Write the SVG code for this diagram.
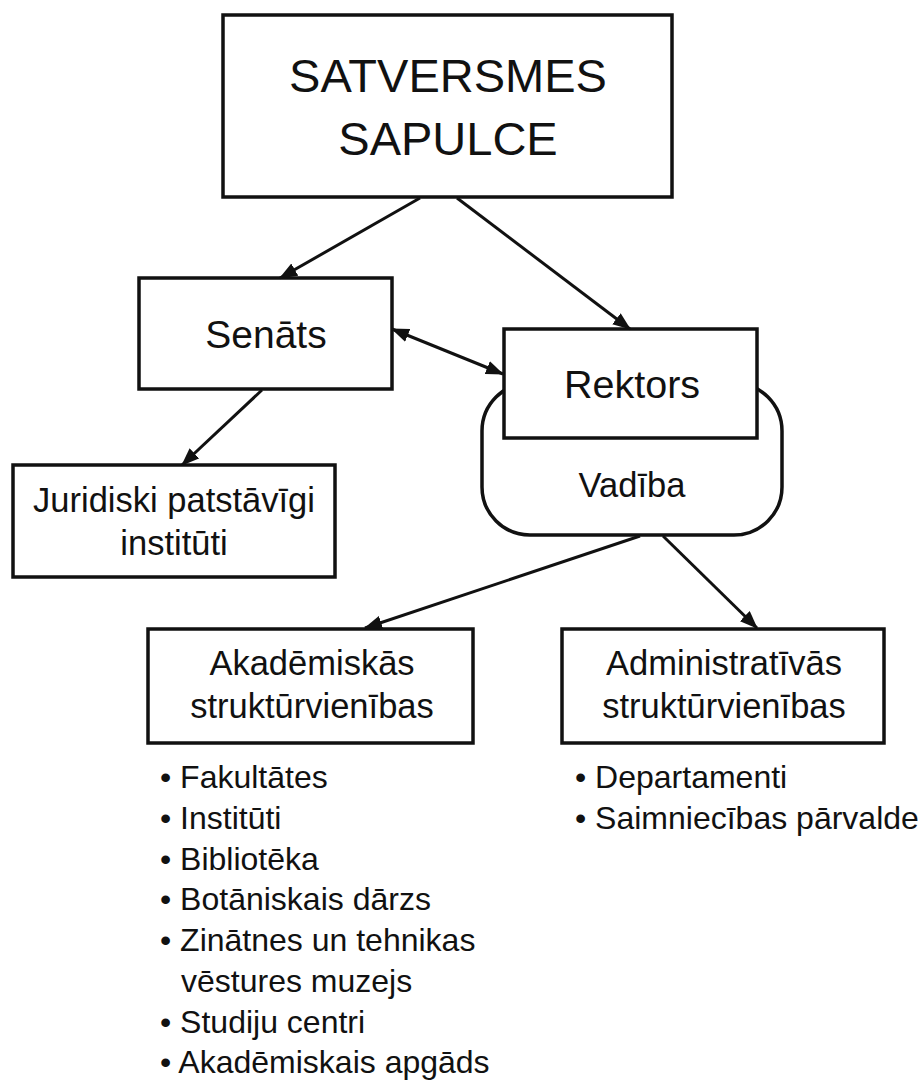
<svg xmlns="http://www.w3.org/2000/svg" width="922" height="1082" viewBox="0 0 922 1082">
<style>
.box{fill:#fff;stroke:#111;stroke-width:3.5}
.t{font-family:"Liberation Sans",Arial,sans-serif;fill:#111;text-anchor:middle}
.l{font-family:"Liberation Sans",Arial,sans-serif;fill:#111;font-size:32px}
.c{stroke:#111;stroke-width:3;fill:none}
</style>
<defs>
<marker id="ah" markerUnits="userSpaceOnUse" markerWidth="18" markerHeight="14" refX="17" refY="7" orient="auto">
<path d="M0,0 L18,7 L0,14 Z" fill="#111"/>
</marker>
<marker id="as" markerUnits="userSpaceOnUse" markerWidth="18" markerHeight="14" refX="1" refY="7" orient="auto">
<path d="M18,0 L0,7 L18,14 Z" fill="#111"/>
</marker>
</defs>
<rect width="922" height="1082" fill="#fff"/>
<g id="satversmes">
<rect class="box" x="223" y="15" width="449" height="182"/>
<text class="t" x="448" y="92" font-size="47">SATVERSMES</text>
<text class="t" x="448" y="155" font-size="47">SAPULCE</text>
</g>
<g id="senats">
<rect class="box" x="139" y="278" width="253" height="111"/>
<text class="t" x="266" y="348" font-size="39">Senāts</text>
</g>
<g id="vadiba">
<rect class="box" x="482" y="383" width="300" height="152" rx="48" ry="48"/>
<text class="t" x="632" y="497" font-size="34.5">Vadība</text>
</g>
<g id="rektors">
<rect class="box" x="504" y="329" width="253" height="109"/>
<text class="t" x="632" y="398" font-size="39.5">Rektors</text>
</g>
<g id="juridiski">
<rect class="box" x="13" y="465" width="322" height="112"/>
<text class="t" x="174" y="512" font-size="34.5">Juridiski patstāvīgi</text>
<text class="t" x="174" y="555" font-size="34.5">institūti</text>
</g>
<g id="akademiskas">
<rect class="box" x="148" y="629" width="325" height="114"/>
<text class="t" x="312" y="675" font-size="34.5">Akadēmiskās</text>
<text class="t" x="312" y="718" font-size="34.5">struktūrvienības</text>
</g>
<g id="administrativas">
<rect class="box" x="562" y="629" width="322" height="114"/>
<text class="t" x="724" y="675" font-size="34.5">Administratīvās</text>
<text class="t" x="724" y="718" font-size="34.5">struktūrvienības</text>
</g>
<g id="akad-list">
<text class="l" x="160" y="788">• Fakultātes</text>
<text class="l" x="160" y="829">• Institūti</text>
<text class="l" x="160" y="870">• Bibliotēka</text>
<text class="l" x="160" y="910">• Botāniskais dārzs</text>
<text class="l" x="160" y="951">• Zinātnes un tehnikas</text>
<text class="l" x="181" y="992">vēstures muzejs</text>
<text class="l" x="160" y="1033">• Studiju centri</text>
<text class="l" x="160" y="1073">• Akadēmiskais apgāds</text>
</g>
<g id="admin-list">
<text class="l" x="575" y="788">• Departamenti</text>
<text class="l" x="575" y="829">• Saimniecības pārvalde</text>
</g>
<g id="connectors">
<line class="c" x1="420" y1="198" x2="280" y2="278" marker-end="url(#ah)"/>
<line class="c" x1="457" y1="198" x2="630" y2="329" marker-end="url(#ah)"/>
<line class="c" x1="392" y1="329" x2="503" y2="374" marker-start="url(#as)" marker-end="url(#ah)"/>
<line class="c" x1="262" y1="390" x2="182" y2="465" marker-end="url(#ah)"/>
<line class="c" x1="640" y1="536" x2="365" y2="628" marker-end="url(#ah)"/>
<line class="c" x1="663" y1="536" x2="757" y2="628" marker-end="url(#ah)"/>
</g>
</svg>
